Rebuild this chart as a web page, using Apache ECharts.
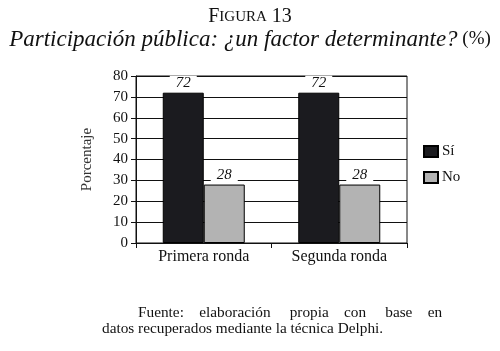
<!DOCTYPE html>
<html>
<head>
<meta charset="utf-8">
<script src="https://cdn.jsdelivr.net/npm/echarts@6/dist/echarts.min.js"></script>
<style>
  html, body { margin: 0; padding: 0; background: #fff; }
  #chart { width: 500px; height: 351px; }
</style>
</head>
<body>
<div id="chart"></div>
<script>
// datos
var rondas = ['Primera ronda', 'Segunda ronda'];
var valoresSi = [72, 72];
var valoresNo = [28, 28];
var ticksY = [0, 10, 20, 30, 40, 50, 60, 70, 80];

var serif = "'Liberation Serif', 'DejaVu Serif', serif";
var negro = '#1b1b1f';

var myChart = echarts.init(document.getElementById('chart'));

// etiqueta encima de cada barra (fondo blanco para cortar la rejilla)
var etiqueta = {
    show: true,
    position: 'top',
    distance: 2,
    fontFamily: serif,
    fontStyle: 'italic',
    fontSize: 15,
    color: '#111',
    backgroundColor: '#fff',
    padding: [0, 6]
};

var option = {
    backgroundColor: '#fff',
    animation: false,
    title: [{
        text: '{a|F}{b|IGURA}{a| 13}',
        left: 'center',
        top: 2,
        textStyle: {
            rich: {
                a: { fontFamily: serif, fontSize: 20, fontWeight: 'normal', color: '#111' },
                b: { fontFamily: serif, fontSize: 15, fontWeight: 'normal', color: '#111' }
            }
        }
    }, {
        text: '{i|Participación pública: ¿un factor determinante?}{n| (%)}',
        left: 'center',
        top: 23,
        textStyle: {
            rich: {
                i: { fontFamily: serif, fontStyle: 'italic', fontSize: 23, fontWeight: 'normal', color: '#111' },
                n: { fontFamily: serif, fontSize: 19, fontWeight: 'normal', color: '#111' }
            }
        }
    }],
    legend: {
        orient: 'vertical',
        left: 418,
        top: 139,
        icon: 'rect',
        itemWidth: 14,
        itemHeight: 11,
        itemGap: 11,
        textStyle: { fontFamily: serif, fontSize: 15, color: '#111', padding: [0, 0, 0, -1] },
        data: ['Sí', 'No']
    },
    grid: {
        left: 136,
        right: 93,
        top: 76,
        bottom: 108,
        show: true,
        borderColor: '#111',
        borderWidth: 1
    },
    xAxis: {
        type: 'category',
        data: rondas,
        axisLine: { lineStyle: { color: '#111', width: 1 } },
        axisTick: { show: true, length: 5, lineStyle: { color: '#111' } },
        axisLabel: { fontFamily: serif, fontSize: 16, color: '#111', margin: 6 }
    },
    yAxis: {
        type: 'value',
        min: ticksY[0],
        max: ticksY[ticksY.length - 1],
        interval: 10,
        name: 'Porcentaje',
        nameLocation: 'middle',
        nameGap: 41,
        nameTextStyle: { fontFamily: serif, fontSize: 15, color: '#333' },
        axisLine: { show: true, lineStyle: { color: '#111', width: 1 } },
        axisTick: { show: true, length: 5, lineStyle: { color: '#111' } },
        axisLabel: { fontFamily: serif, fontSize: 15, color: '#111', margin: 8 },
        splitLine: { show: true, lineStyle: { color: '#111', width: 1 } }
    },
    series: [{
        name: 'Sí',
        type: 'bar',
        barWidth: 41,
        barGap: '0%',
        data: valoresSi,
        itemStyle: { color: negro, borderColor: '#000', borderWidth: 1 },
        label: etiqueta
    }, {
        name: 'No',
        type: 'bar',
        barWidth: 41,
        barGap: '0%',
        data: valoresNo,
        itemStyle: { color: '#b3b3b3', borderColor: '#000', borderWidth: 1 },
        label: etiqueta
    }],
    graphic: [{
        type: 'text',
        left: 138,
        top: 305,
        style: { text: 'Fuente:    elaboración     propia    con     base    en', font: '15.3px ' + serif, fill: '#111' }
    }, {
        type: 'text',
        left: 102,
        top: 321,
        style: { text: 'datos recuperados mediante la técnica Delphi.', font: '15.3px ' + serif, fill: '#111' }
    }]
};

myChart.setOption(option);
</script>
</body>
</html>
